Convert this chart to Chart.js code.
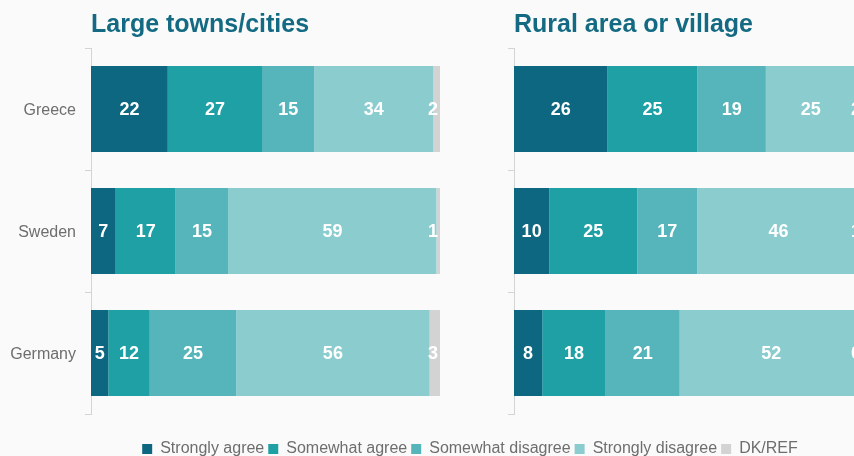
<!DOCTYPE html>
<html>
<head>
<meta charset="utf-8">
<script src="https://cdn.jsdelivr.net/npm/chart.js@4.4.1/dist/chart.umd.min.js"></script>
<style>
  html, body { margin: 0; padding: 0; width: 854px; height: 456px; overflow: hidden; background: #fafafa; }
  #wrap { position: relative; width: 940px; height: 467px; }
  #urban { position: absolute; left: 0; top: 0; }
  #rural { position: absolute; left: 440px; top: 0; }
</style>
</head>
<body>
<div id="wrap">
  <canvas id="urban" width="940" height="467"></canvas>
  <canvas id="rural" width="500" height="467"></canvas>
</div>
<script>
// Categories and answer options
const countries = ['Greece', 'Sweden', 'Germany'];
const responses = ['Strongly agree', 'Somewhat agree', 'Somewhat disagree', 'Strongly disagree', 'DK/REF'];
const responseColors = ['#0e6780', '#1ea0a5', '#55b5bb', '#8bcccf', '#d3d3d3'];

// Large towns/cities (%)
const urbanStronglyAgree    = [22, 7, 5];
const urbanSomewhatAgree    = [27, 17, 12];
const urbanSomewhatDisagree = [15, 15, 25];
const urbanStronglyDisagree = [34, 59, 56];
const urbanDkRef            = [2, 1, 3];

// Rural area or village (%)
const ruralStronglyAgree    = [26, 10, 8];
const ruralSomewhatAgree    = [25, 25, 18];
const ruralSomewhatDisagree = [19, 17, 21];
const ruralStronglyDisagree = [25, 46, 52];
const ruralDkRef            = [2, 1, 0];

const FONT = '"Liberation Sans", Arial, Helvetica, sans-serif';
Chart.defaults.font.family = FONT;
Chart.defaults.animation = false;

// Each bar is stretched to the full width (percent stacking); labels keep the reported numbers.
function buildDatasets(seriesList) {
  const totals = countries.map((_, i) => seriesList.reduce((s, arr) => s + arr[i], 0));
  return seriesList.map((arr, k) => ({
    label: responses[k],
    values: arr,
    data: arr.map((v, i) => v / totals[i] * 100),
    backgroundColor: responseColors[k],
    borderWidth: 0,
    barPercentage: 0.705,
    categoryPercentage: 1
  }));
}

// White value labels centred in each segment, kept inside the plot on the right
const segmentLabels = {
  id: 'segmentLabels',
  afterDatasetsDraw(chart) {
    const { ctx, chartArea } = chart;
    ctx.save();
    ctx.font = 'bold 18px ' + FONT;
    ctx.fillStyle = '#ffffff';
    ctx.textAlign = 'center';
    ctx.textBaseline = 'middle';
    chart.data.datasets.forEach((ds, di) => {
      const meta = chart.getDatasetMeta(di);
      meta.data.forEach((bar, i) => {
        const txt = String(ds.values[i]);
        const w = ctx.measureText(txt).width;
        let cx = (bar.x + bar.base) / 2;
        const maxX = chartArea.right - 2 - w / 2;
        if (cx > maxX) cx = maxX;
        ctx.fillText(txt, cx, bar.y + 1);
      });
    });
    ctx.restore();
  }
};

const AXIS_GREY = '#d4d4d4';
const TEXT_GREY = '#6e6e6e';
const TITLE_COLOR = '#136a82';

function titleOptions(text) {
  return {
    display: true,
    text: text,
    align: 'start',
    fullSize: false,
    color: TITLE_COLOR,
    font: { size: 25, weight: 'bold' },
    padding: { top: 10, bottom: 8 }
  };
}

// Left panel: also carries the shared legend across the full width
new Chart(document.getElementById('urban'), {
  type: 'bar',
  data: {
    labels: countries,
    datasets: buildDatasets([urbanStronglyAgree, urbanSomewhatAgree, urbanSomewhatDisagree, urbanStronglyDisagree, urbanDkRef])
  },
  options: {
    indexAxis: 'y',
    responsive: false,
    layout: { padding: 0 },
    scales: {
      x: {
        stacked: true, min: 0, max: 100,
        grid: { display: false }, border: { display: false },
        ticks: { display: false },
        afterFit(s) { s.height = 23; }
      },
      y: {
        stacked: true,
        grid: { display: true, drawOnChartArea: false, drawTicks: true, tickLength: 6, color: AXIS_GREY, offset: true },
        border: { display: true, color: AXIS_GREY, width: 1 },
        ticks: { color: TEXT_GREY, font: { size: 16 }, padding: 9, labelOffset: 2 },
        afterFit(s) { s.width = 91; }
      },
      spacer: {
        type: 'linear', position: 'right', display: true,
        grid: { display: false }, border: { display: false },
        ticks: { display: false },
        afterFit(s) { s.width = 500; }
      }
    },
    plugins: {
      title: titleOptions('Large towns/cities'),
      legend: {
        display: true,
        position: 'bottom',
        labels: { boxWidth: 10, boxHeight: 10, padding: 4, color: TEXT_GREY, font: { size: 16 } }
      },
      tooltip: { enabled: false }
    }
  },
  plugins: [segmentLabels]
});

// Right panel
new Chart(document.getElementById('rural'), {
  type: 'bar',
  data: {
    labels: countries,
    datasets: buildDatasets([ruralStronglyAgree, ruralSomewhatAgree, ruralSomewhatDisagree, ruralStronglyDisagree, ruralDkRef])
  },
  options: {
    indexAxis: 'y',
    responsive: false,
    layout: { padding: { right: 77, bottom: 53 } },
    scales: {
      x: { stacked: true, min: 0, max: 100, display: false },
      y: {
        stacked: true,
        grid: { display: true, drawOnChartArea: false, drawTicks: true, tickLength: 6, color: AXIS_GREY, offset: true },
        border: { display: true, color: AXIS_GREY, width: 1 },
        ticks: { display: false },
        afterFit(s) { s.width = 74; }
      }
    },
    plugins: {
      title: titleOptions('Rural area or village'),
      legend: { display: false },
      tooltip: { enabled: false }
    }
  },
  plugins: [segmentLabels]
});
</script>
</body>
</html>
